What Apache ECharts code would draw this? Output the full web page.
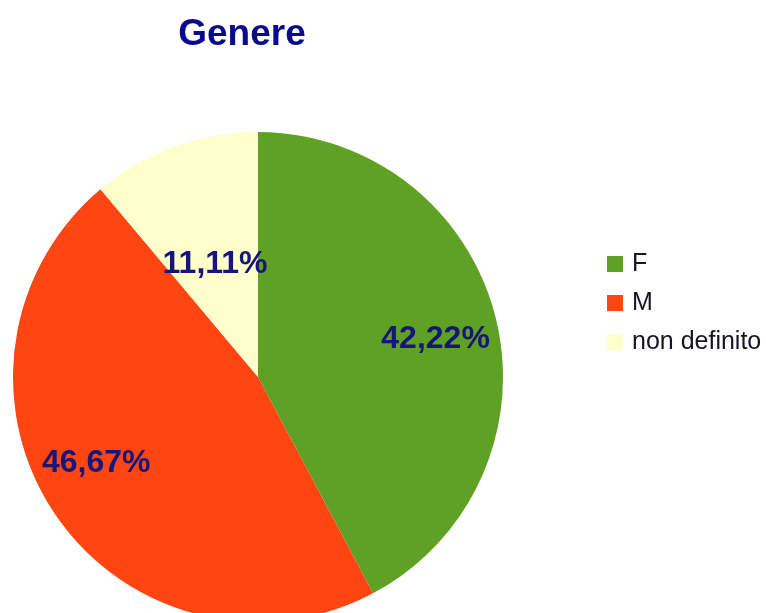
<!DOCTYPE html>
<html>
<head>
<meta charset="utf-8">
<style>
  html, body { margin: 0; padding: 0; background: #fff; }
  #main { width: 766px; height: 613px; }
</style>
<script src="https://cdn.jsdelivr.net/npm/echarts@6/dist/echarts.min.js"></script>
</head>
<body>
<div id="main"></div>
<script>
let categories = ["F", "M", "non definito"];
let counts = [19, 21, 5];
let colors = ["#5ea124", "#ff4512", "#ffffcc"];
// small nudges of the percent labels, in px
let labelNudge = [[0, 6], [-10, -16], [0, 5]];

let chartDom = document.getElementById("main");
let myChart = echarts.init(chartDom);

let total = counts.reduce((a, b) => a + b, 0);
function pct(v) {
  return ((v / total) * 100).toFixed(2).replace(".", ",") + "%";
}

let labelStyle = {
  color: "#16167a",
  fontSize: 32,
  fontWeight: "bold",
  fontFamily: "Liberation Sans, Arial, sans-serif",
};

let pieData = categories.map((c, i) => ({
  name: c,
  value: counts[i],
  itemStyle: { color: colors[i] },
}));

function pctLabel(i) {
  return {
    show: true,
    position: "inside",
    offset: labelNudge[i],
    formatter: (p) => pct(p.value),
    ...labelStyle,
  };
}

let option = {
  animation: false,
  title: {
    text: "Genere",
    left: 237,
    top: 11,
    textAlign: "center",
    textStyle: {
      color: "#0a0a8c",
      fontSize: 37,
      fontWeight: "bold",
      fontFamily: "Liberation Sans, Arial, sans-serif",
    },
  },
  legend: {
    orient: "vertical",
    left: 602,
    top: 246,
    itemWidth: 16,
    itemHeight: 16,
    itemGap: 13,
    icon: "rect",
    data: categories,
    textStyle: {
      color: "#151525",
      fontSize: 25,
      lineHeight: 26,
      fontFamily: "Liberation Sans, Arial, sans-serif",
      padding: [0, 0, 0, 4],
    },
  },
  series: [
    {
      // visible pie, only the small slice is labelled here (at half radius)
      type: "pie",
      center: [258, 377],
      radius: [0, 245],
      startAngle: 90,
      clockwise: true,
      silent: true,
      label: { show: false },
      labelLine: { show: false },
      data: pieData.map((d, i) => ({
        ...d,
        label: i === 2 ? pctLabel(i) : { show: false },
      })),
    },
    {
      // transparent ring used to place the two large labels further out
      type: "pie",
      center: [258, 377],
      radius: [115, 245],
      startAngle: 90,
      clockwise: true,
      silent: true,
      legendHoverLink: false,
      labelLine: { show: false },
      data: pieData.map((d, i) => ({
        name: d.name + " ",
        value: d.value,
        itemStyle: { color: "rgba(0,0,0,0)" },
        label: i < 2 ? pctLabel(i) : { show: false },
      })),
    },
  ],
};

option && myChart.setOption(option);
</script>
</body>
</html>
